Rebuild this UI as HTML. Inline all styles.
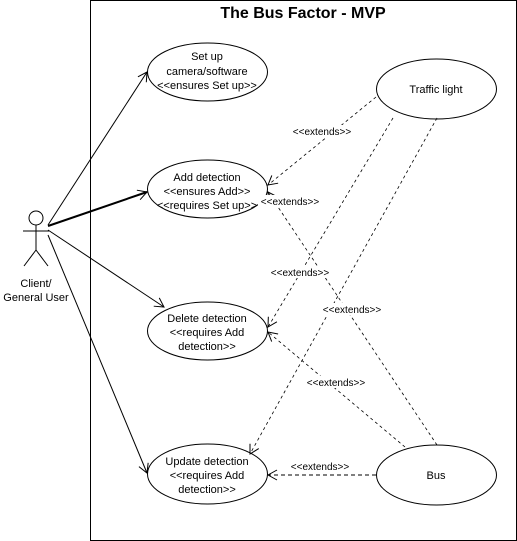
<!DOCTYPE html>
<html><head><meta charset="utf-8"><style>
html,body{margin:0;padding:0;background:#fff;}
svg{display:block;font-family:"Liberation Sans",Arial,sans-serif;}
</style></head><body>
<svg width="517" height="541" viewBox="0 0 517 541" xmlns="http://www.w3.org/2000/svg">
<defs>
<marker id="a" markerWidth="12" markerHeight="12" refX="10" refY="6" orient="auto" markerUnits="userSpaceOnUse">
<path d="M1,1 L10,6 L1,11" fill="none" stroke="#000" stroke-width="1"/></marker>
</defs>
<rect x="90.5" y="0.5" width="426" height="540" fill="#fff" stroke="#000"/>
<text x="303" y="18" font-size="16" font-weight="bold" text-anchor="middle">The Bus Factor - MVP</text>
<g fill="#fff" stroke="#000">
<ellipse cx="207.5" cy="72" rx="60" ry="29"/>
<ellipse cx="207.5" cy="189" rx="60" ry="29"/>
<ellipse cx="207.5" cy="331" rx="60" ry="29"/>
<ellipse cx="207.5" cy="474" rx="60" ry="30"/>
<ellipse cx="436.5" cy="89" rx="60" ry="30"/>
<ellipse cx="436.5" cy="475" rx="60" ry="30"/>
</g>
<g font-size="11" text-anchor="middle">
<text x="207" y="60">Set up</text><text x="207" y="75">camera/software</text><text x="207" y="89">&lt;&lt;ensures Set up&gt;&gt;</text>
<text x="207" y="181">Add detection</text><text x="207" y="195">&lt;&lt;ensures Add&gt;&gt;</text><text x="207" y="209">&lt;&lt;requires Set up&gt;&gt;</text>
<text x="207" y="322">Delete detection</text><text x="207" y="336">&lt;&lt;requires Add</text><text x="207" y="350">detection&gt;&gt;</text>
<text x="207" y="465">Update detection</text><text x="207" y="479">&lt;&lt;requires Add</text><text x="207" y="493">detection&gt;&gt;</text>
<text x="436" y="93">Traffic light</text>
<text x="436" y="479">Bus</text>
<text x="36" y="287">Client/</text><text x="36" y="301">General User</text>
</g>
<!-- actor -->
<g stroke="#000" fill="none">
<circle cx="36" cy="218" r="7" fill="#fff"/>
<line x1="36" y1="225" x2="36" y2="250"/>
<line x1="23" y1="231" x2="49" y2="231"/>
<line x1="36" y1="250" x2="24" y2="266"/>
<line x1="36" y1="250" x2="48" y2="266"/>
<line x1="48" y1="225" x2="147" y2="72" marker-end="url(#a)"/>
<line x1="48" y1="226" x2="147" y2="192" stroke-width="2" marker-end="url(#a)"/>
<line x1="48" y1="230" x2="164" y2="307" marker-end="url(#a)"/>
<line x1="48" y1="235" x2="147" y2="473" marker-end="url(#a)"/>
</g>
<g stroke="#000" fill="none" stroke-dasharray="3,3" stroke-width="0.8">
<line x1="376" y1="97" x2="268" y2="185" marker-end="url(#a)"/>
<line x1="393" y1="118" x2="268" y2="327" marker-end="url(#a)"/>
<line x1="437" y1="118" x2="250" y2="454" marker-end="url(#a)"/>
<line x1="437" y1="445" x2="268" y2="192" marker-end="url(#a)"/>
<line x1="405" y1="447" x2="268" y2="332" marker-end="url(#a)"/>
<line x1="376" y1="475" x2="268" y2="475" stroke-dasharray="4,3" stroke-width="1" marker-end="url(#a)"/>
</g>
<g font-size="10" text-anchor="middle">
<rect x="290" y="125" width="64" height="12" fill="#fff"/><text x="322" y="135">&lt;&lt;extends&gt;&gt;</text>
<rect x="258" y="195" width="64" height="12" fill="#fff"/><text x="290" y="205">&lt;&lt;extends&gt;&gt;</text>
<rect x="268" y="266" width="64" height="12" fill="#fff"/><text x="300" y="276">&lt;&lt;extends&gt;&gt;</text>
<rect x="320" y="303" width="64" height="12" fill="#fff"/><text x="352" y="313">&lt;&lt;extends&gt;&gt;</text>
<rect x="304" y="376" width="64" height="12" fill="#fff"/><text x="336" y="386">&lt;&lt;extends&gt;&gt;</text>
<rect x="288" y="460" width="64" height="12" fill="#fff"/><text x="320" y="470">&lt;&lt;extends&gt;&gt;</text>
</g>
</svg>
</body></html>
